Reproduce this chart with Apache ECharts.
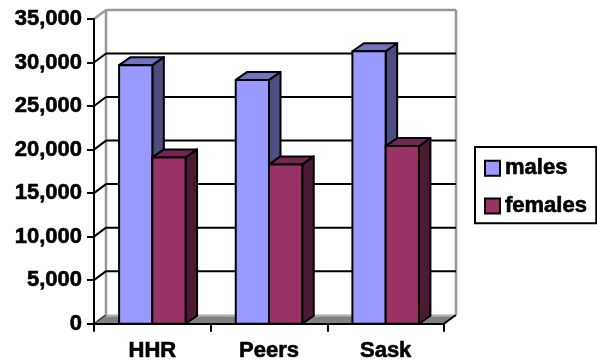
<!DOCTYPE html>
<html><head><meta charset="utf-8">
<script src="https://cdn.jsdelivr.net/npm/echarts@6/dist/echarts.min.js"></script>
<style>html,body{margin:0;padding:0;background:#fff}#c{width:597px;height:362px}</style>
</head><body><div id="c"></div>
<script>
const categories = ['HHR', 'Peers', 'Sask'];
const males = [29700, 28000, 31300];
const females = [19100, 18300, 20400];
const yTicks = [0, 5000, 10000, 15000, 20000, 25000, 30000, 35000];
const seriesNames = ['males', 'females'];

const WDX = 12, WDY = -9;   // wall depth
const BDX = 11.5, BDY = -8; // bar depth
const FONT = '"Liberation Sans", Arial, sans-serif';
const TXT = {fontFamily: FONT, fontWeight: 'bold', fontSize: 22, color: '#000', textBorderColor: '#000', textBorderWidth: 0.6};

function barRender(front, side, topc, left) {
  return function (params, api) {
    const i = api.value(0), v = api.value(1);
    const t = api.coord([i, v]), b = api.coord([i, 0]);
    const band = api.size([1, 0])[0];
    const bw = band * 0.285;
    const x0 = left ? t[0] - bw : t[0];
    const x1 = x0 + bw, yT = t[1], yB = b[1];
    const st = {stroke: '#000', lineWidth: 2, lineJoin: 'round'};
    return {type: 'group', children: [
      {type: 'polygon', shape: {points: [[x1, yT], [x1 + BDX, yT + BDY], [x1 + BDX, yB + BDY], [x1, yB]]}, style: Object.assign({fill: side}, st)},
      {type: 'polygon', shape: {points: [[x0, yT], [x0 + BDX, yT + BDY], [x1 + BDX, yT + BDY], [x1, yT]]}, style: Object.assign({fill: topc}, st)},
      {type: 'rect', shape: {x: x0, y: yT, width: bw, height: yB - yT}, style: Object.assign({fill: front}, st)}
    ]};
  };
}

function frameRender(params, api) {
  const v = api.value(1);
  const cs = params.coordSys;
  const xL = cs.x, xR = cs.x + cs.width;
  const y = api.coord([0, v])[1];
  const maxV = yTicks[yTicks.length - 1];
  const ch = [];
  if (v === 0) {
    const yTop = api.coord([0, maxV])[1];
    ch.push({type: 'polygon', shape: {points: [[xL, y], [xL + WDX, y + WDY], [xR + WDX, y + WDY], [xR, y]]}, style: {fill: '#808080'}});
    ch.push({type: 'line', shape: {x1: xL + WDX, y1: y + WDY + 1, x2: xR + WDX, y2: y + WDY + 1}, style: {stroke: '#b0b0b0', lineWidth: 2}});
    ch.push({type: 'line', shape: {x1: xL, y1: y, x2: xL + WDX, y2: y + WDY}, style: {stroke: '#444', lineWidth: 1.5}});
    ch.push({type: 'line', shape: {x1: xR, y1: y, x2: xR + WDX, y2: y + WDY}, style: {stroke: '#000', lineWidth: 2}});
    ch.push({type: 'line', shape: {x1: xL + WDX, y1: yTop + WDY, x2: xL + WDX, y2: y + WDY}, style: {stroke: '#999', lineWidth: 2.5}});
    ch.push({type: 'line', shape: {x1: xR + WDX, y1: yTop + WDY, x2: xR + WDX, y2: y + WDY}, style: {stroke: '#999', lineWidth: 2.5}});
  } else {
    const col = v === maxV ? '#999' : '#000';
    const lw = v === maxV ? 2.5 : 2;
    ch.push({type: 'line', shape: {x1: xL, y1: y, x2: xL + WDX, y2: y + WDY}, style: {stroke: col, lineWidth: lw}});
    ch.push({type: 'line', shape: {x1: xL + WDX, y1: y + WDY, x2: xR + WDX, y2: y + WDY}, style: {stroke: col, lineWidth: lw}});
  }
  return {type: 'group', children: ch};
}

const chart = echarts.init(document.getElementById('c'), null, {renderer: 'canvas'});
chart.setOption({
  backgroundColor: '#fff',
  animation: false,
  grid: {left: 94, top: 19, width: 350, height: 306},
  legend: {
    orient: 'vertical', left: 475, top: 147,
    padding: [10, 9, 6, 9],
    borderColor: '#000', borderWidth: 2,
    itemWidth: 15, itemHeight: 15, itemGap: 15,
    icon: 'rect',
    textStyle: Object.assign({lineHeight: 22}, TXT),
    data: [
      {name: seriesNames[0], itemStyle: {color: '#9999FF', borderColor: '#000', borderWidth: 2}},
      {name: seriesNames[1], itemStyle: {color: '#993366', borderColor: '#000', borderWidth: 2}}
    ]
  },
  xAxis: {
    type: 'category', data: categories, boundaryGap: true, z: 10,
    axisLine: {show: true, lineStyle: {color: '#000', width: 2}},
    axisTick: {show: true, length: 8, interval: 0, lineStyle: {color: '#000', width: 2}},
    axisLabel: Object.assign({margin: 16, interval: 0}, TXT),
    splitLine: {show: false}
  },
  yAxis: {
    type: 'value', min: yTicks[0], max: yTicks[yTicks.length - 1], interval: yTicks[1] - yTicks[0], z: 10,
    axisLine: {show: true, lineStyle: {color: '#000', width: 2}},
    axisTick: {show: true, length: 7, lineStyle: {color: '#000', width: 2}},
    axisLabel: Object.assign({margin: 12,
      formatter: function (v) { return v.toLocaleString('en-US'); }}, TXT),
    splitLine: {show: false}
  },
  series: [
    {type: 'custom', name: 'frame', z: 1, silent: true, clip: false,
      data: yTicks.map(function (v) { return [0, v]; }), renderItem: frameRender},
    {type: 'custom', name: seriesNames[0], z: 3, clip: false,
      itemStyle: {color: '#9999FF'},
      data: males.map(function (v, i) { return [i, v]; }),
      renderItem: barRender('#9999FF', '#4D4D80', '#7373BF', true)},
    {type: 'custom', name: seriesNames[1], z: 3, clip: false,
      itemStyle: {color: '#993366'},
      data: females.map(function (v, i) { return [i, v]; }),
      renderItem: barRender('#993366', '#4D1A33', '#732650', false)}
  ]
});
</script></body></html>
